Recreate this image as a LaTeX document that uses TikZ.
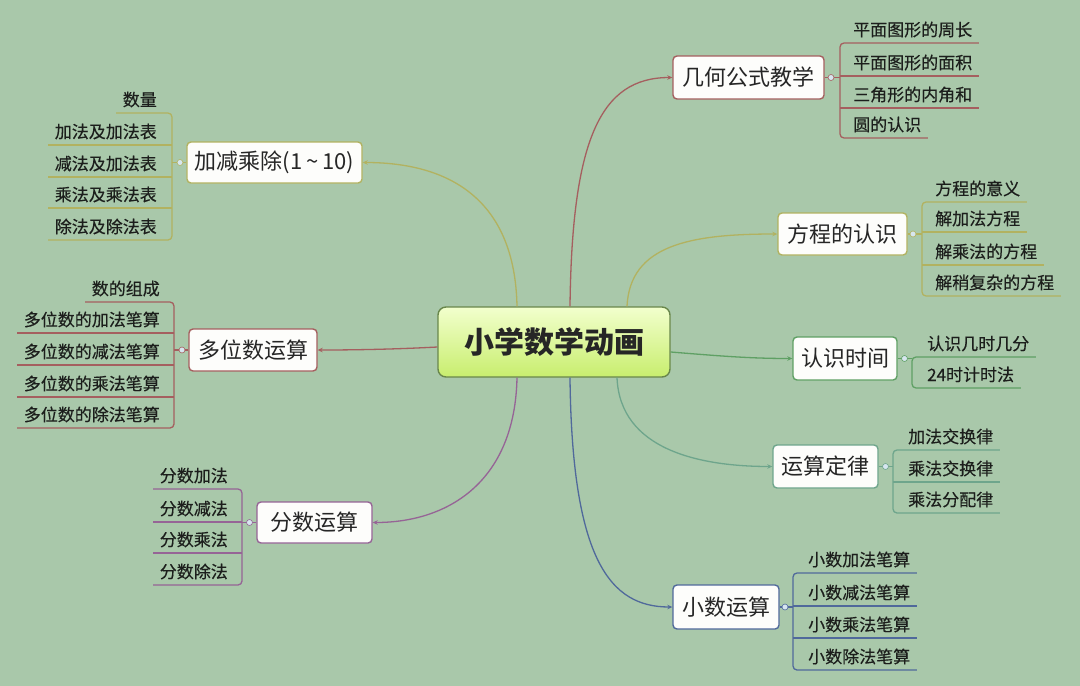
\documentclass[tikz,border=0pt]{standalone}
\usepackage{fontspec}
\setmainfont{Noto Sans CJK SC}
\newfontfamily\leaffont{Noto Sans CJK SC}[FakeBold=0.35]
\usetikzlibrary{arrows.meta}
\definecolor{bg}{RGB}{169,200,170}
\definecolor{txt}{RGB}{38,38,38}
\definecolor{leaftxt}{RGB}{28,30,28}
\definecolor{cA}{RGB}{165,95,95}
\definecolor{cB}{RGB}{178,178,96}
\definecolor{cC}{RGB}{95,160,100}
\definecolor{cD}{RGB}{110,165,140}
\definecolor{cE}{RGB}{80,105,155}
\definecolor{cF}{RGB}{150,100,150}
\definecolor{ctrline}{RGB}{105,135,75}
\definecolor{ctrtop}{RGB}{242,255,205}
\definecolor{ctrbot}{RGB}{200,238,110}
\definecolor{knob}{RGB}{215,230,240}
\tikzset{
  branch/.style={draw=#1, line width=1.4pt, rounded corners=4pt, fill={rgb,255:red,253;green,253;blue,251},
    text=txt, font=\fontsize{22}{26}\selectfont, inner xsep=8pt, inner ysep=0pt, anchor=center},
  leaf/.style={inner xsep=6.5pt, inner ysep=0pt, text=leaftxt, font=\leaffont\fontsize{17}{20}\selectfont},
  brk/.style={draw=#1, line width=1.3pt, rounded corners=4pt},
  conn/.style={draw=#1, line width=1.3pt, -{Stealth[length=5pt,width=4.5pt]}},
  knobstyle/.style={circle, draw=#1, line width=0.6pt, fill=knob, inner sep=0pt, minimum size=6pt}
}
\begin{document}
\begin{tikzpicture}[x=1pt,y=-1pt]
\fill[bg] (0,0) rectangle (1080,686);
\useasboundingbox (0,0) rectangle (1080,686);

% centre
\node[draw=ctrline, line width=1.4pt, rounded corners=8pt, top color=ctrtop, bottom color=ctrbot,
  minimum width=232pt, minimum height=70pt, text=txt, font=\fontsize{30}{34}\selectfont\bfseries]
  (ctr) at (554,342) {小学数学动画};

% branch boxes
\node[branch=cA, minimum width=151pt, minimum height=43pt] (A) at (748.5,77.5) {几何公式教学};
\node[branch=cB, minimum width=129pt, minimum height=42pt] (B) at (842.5,234) {方程的认识};
\node[branch=cC, minimum width=104pt, minimum height=43pt] (C) at (845,358.5) {认识时间};
\node[branch=cD, minimum width=105pt, minimum height=43pt] (D) at (825.5,466.5) {运算定律};
\node[branch=cE, minimum width=106pt, minimum height=44pt] (E) at (726,607) {小数运算};
\node[branch=cB, minimum width=175pt, minimum height=41pt] (F) at (274.5,162.5) {加减乘除(1\,\textasciitilde\,10)};
\node[branch=cA, minimum width=128pt, minimum height=42pt] (G) at (253,350) {多位数运算};
\node[branch=cF, minimum width=115pt, minimum height=41pt] (H) at (314.5,522.5) {分数运算};

% connectors from centre
\draw[conn=cA] (ctr.north -| 570,0) .. controls (572,140) and (600,77.5) .. (A.west);
\draw[conn=cB] (ctr.north -| 627,0) .. controls (630,245) and (690,234) .. (B.west);
\draw[conn=cC] (ctr.east |- 0,352) .. controls (720,356) and (750,358.5) .. (C.west);
\draw[conn=cD] (ctr.south -| 617,0) .. controls (620,450) and (700,466.5) .. (D.west);
\draw[conn=cE] (ctr.south -| 570,0) .. controls (572,560) and (610,607) .. (E.west);
\draw[conn=cB] (ctr.north -| 517,0) .. controls (515,200) and (450,162.5) .. (F.east);
\draw[conn=cA] (ctr.west |- 0,347) .. controls (400,349) and (360,350) .. (G.east);
\draw[conn=cF] (ctr.south -| 517,0) .. controls (515,480) and (450,522.5) .. (H.east);

% ---------- A: 几何公式教学 ----------
\node[leaf, anchor=base west] (A1) at (846.5,36) {平面图形的周长};
\node[leaf, anchor=base west] (A2) at (846.5,69) {平面图形的面积};
\node[leaf, anchor=base west] (A3) at (846.5,101) {三角形的内角和};
\node[leaf, anchor=base west] (A4) at (846.5,131) {圆的认识};
\draw[brk=cA] (A1.east |- 0,43) -- (840,43) -- (840,138) -- (A4.east |- 0,138);
\draw[brk=cA] (840,76) -- (A2.east |- 0,76);
\draw[brk=cA] (840,108) -- (A3.east |- 0,108);
\draw[cA, line width=1.2pt] (A.east) -- (840,77.5);
\node[knobstyle=cA] (Ak) at (831,77.5) {};

% ---------- B: 方程的认识 ----------
\node[leaf, anchor=base west] (B1) at (928.5,195) {方程的意义};
\node[leaf, anchor=base west] (B2) at (928.5,225) {解加法方程};
\node[leaf, anchor=base west] (B3) at (928.5,258) {解乘法的方程};
\node[leaf, anchor=base west] (B4) at (928.5,289) {解稍复杂的方程};
\draw[brk=cB] (B1.east |- 0,202) -- (922,202) -- (922,296) -- (B4.east |- 0,296);
\draw[brk=cB] (922,232) -- (B2.east |- 0,232);
\draw[brk=cB] (922,265) -- (B3.east |- 0,265);
\draw[cB, line width=1.2pt] (B.east) -- (922,234);
\node[knobstyle=cB] (Bk) at (913,234) {};

% ---------- C: 认识时间 ----------
\node[leaf, anchor=base west] (C1) at (920.5,350) {认识几时几分};
\node[leaf, anchor=base west] (C2) at (920.5,381) {24时计时法};
\draw[brk=cC] (C1.east |- 0,357) -- (912,357) -- (912,388) -- (C2.east |- 0,388);
\draw[cC, line width=1.2pt] (C.east) -- (912,358.5);
\node[knobstyle=cC] (Ck) at (904.5,358.5) {};

% ---------- D: 运算定律 ----------
\node[leaf, anchor=base west] (D1) at (901.5,443) {加法交换律};
\node[leaf, anchor=base west] (D2) at (901.5,475) {乘法交换律};
\node[leaf, anchor=base west] (D3) at (901.5,506) {乘法分配律};
\draw[brk=cD] (D1.east |- 0,450) -- (893,450) -- (893,513) -- (D3.east |- 0,513);
\draw[brk=cD] (893,482) -- (D2.east |- 0,482);
\draw[cD, line width=1.2pt] (D.east) -- (893,466.5);
\node[knobstyle=cD] (Dk) at (885.5,466.5) {};

% ---------- E: 小数运算 ----------
\node[leaf, anchor=base west] (E1) at (801.5,566) {小数加法笔算};
\node[leaf, anchor=base west] (E2) at (801.5,599) {小数减法笔算};
\node[leaf, anchor=base west] (E3) at (801.5,631) {小数乘法笔算};
\node[leaf, anchor=base west] (E4) at (801.5,663) {小数除法笔算};
\draw[brk=cE] (E1.east |- 0,573) -- (793,573) -- (793,670) -- (E4.east |- 0,670);
\draw[brk=cE] (793,606) -- (E2.east |- 0,606);
\draw[brk=cE] (793,638) -- (E3.east |- 0,638);
\draw[cE, line width=1.2pt] (E.east) -- (793,607);
\node[knobstyle=cE] (Ek) at (785,607) {};

% ---------- F: 加减乘除(1~10) ----------
\node[leaf, anchor=base east] (F1) at (163.5,106) {数量};
\node[leaf, anchor=base east] (F2) at (163.5,138) {加法及加法表};
\node[leaf, anchor=base east] (F3) at (163.5,170) {减法及加法表};
\node[leaf, anchor=base east] (F4) at (163.5,201) {乘法及乘法表};
\node[leaf, anchor=base east] (F5) at (163.5,233) {除法及除法表};
\draw[brk=cB] (F1.west |- 0,113) -- (172,113) -- (172,240) -- (F5.west |- 0,240);
\draw[brk=cB] (172,145) -- (F2.west |- 0,145);
\draw[brk=cB] (172,177) -- (F3.west |- 0,177);
\draw[brk=cB] (172,208) -- (F4.west |- 0,208);
\draw[cB, line width=1.2pt] (F.west) -- (172,162.5);
\node[knobstyle=cB] (Fk) at (180,162.5) {};

% ---------- G: 多位数运算 ----------
\node[leaf, anchor=base east] (G1) at (166.5,295) {数的组成};
\node[leaf, anchor=base east] (G2) at (166.5,326) {多位数的加法笔算};
\node[leaf, anchor=base east] (G3) at (166.5,358) {多位数的减法笔算};
\node[leaf, anchor=base east] (G4) at (166.5,390) {多位数的乘法笔算};
\node[leaf, anchor=base east] (G5) at (166.5,421) {多位数的除法笔算};
\draw[brk=cA] (G1.west |- 0,302) -- (174,302) -- (174,428) -- (G5.west |- 0,428);
\draw[brk=cA] (174,333) -- (G2.west |- 0,333);
\draw[brk=cA] (174,365) -- (G3.west |- 0,365);
\draw[brk=cA] (174,397) -- (G4.west |- 0,397);
\draw[cA, line width=1.2pt] (G.west) -- (174,350);
\node[knobstyle=cA] (Gk) at (182,350) {};

% ---------- H: 分数运算 ----------
\node[leaf, anchor=base east] (H1) at (234.5,482) {分数加法};
\node[leaf, anchor=base east] (H2) at (234.5,515) {分数减法};
\node[leaf, anchor=base east] (H3) at (234.5,546) {分数乘法};
\node[leaf, anchor=base east] (H4) at (234.5,578) {分数除法};
\draw[brk=cF] (H1.west |- 0,489) -- (242,489) -- (242,585) -- (H4.west |- 0,585);
\draw[brk=cF] (242,522) -- (H2.west |- 0,522);
\draw[brk=cF] (242,553) -- (H3.west |- 0,553);
\draw[cF, line width=1.2pt] (H.west) -- (242,522.5);
\node[knobstyle=cF] (Hk) at (249.5,522.5) {};
\end{tikzpicture}
\end{document}
